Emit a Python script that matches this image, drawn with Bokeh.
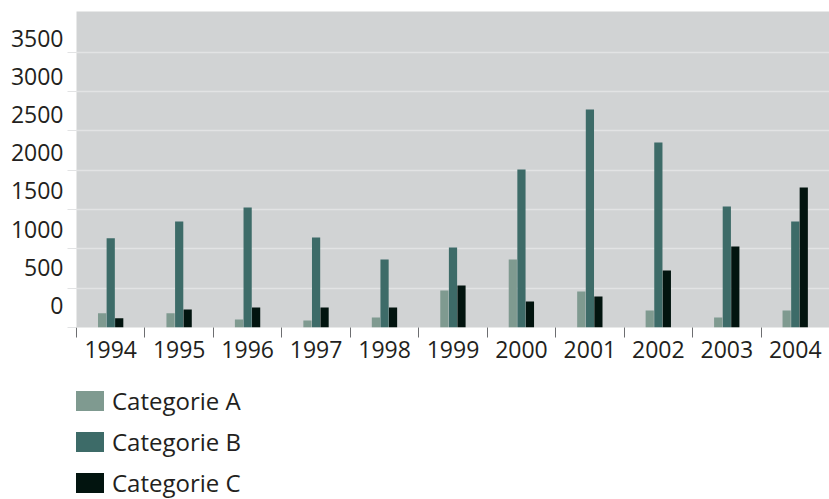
from bokeh.plotting import figure
from bokeh.layouts import column
from bokeh.models import (Range1d, LinearAxis, FixedTicker, CustomLabelingPolicy,
                          Grid, Legend, LegendItem, ColumnDataSource)
from bokeh.transform import dodge
from bokeh.embed import file_html
from bokeh.resources import INLINE

years = ["1994", "1995", "1996", "1997", "1998", "1999", "2000", "2001", "2002", "2003", "2004"]
cat_a = [182, 182, 102, 89, 127, 470, 864, 458, 216, 127, 216]
cat_b = [1135, 1348, 1526, 1144, 864, 1017, 2009, 2771, 2352, 1538, 1348]
cat_c = [118, 229, 254, 254, 254, 534, 331, 394, 725, 1030, 1780]
y_ticks = [0, 500, 1000, 1500, 2000, 2500, 3000, 3500]
series_names = ["Categorie A", "Categorie B", "Categorie C"]
colors = ["#7f9a90", "#3d6b68", "#02140f"]

FONT = "Open Sans"
TEXT = "#231f20"

n = len(years)
centers = [i + 0.5 for i in range(n)]
src = ColumnDataSource(dict(x=centers, year=years, a=cat_a, b=cat_b, c=cat_c))
keys = ["a", "b", "c"]
offsets = [-0.126, 0.0, 0.124]

p = figure(width=829, height=366, x_range=Range1d(0, n),
           y_range=Range1d(0, 4017), x_axis_location=None, y_axis_location=None,
           output_backend="svg", toolbar_location=None,
           min_border_left=76, min_border_top=11, min_border_right=0, min_border_bottom=39)
p.background_fill_color = "#d1d3d4"
p.outline_line_color = None
p.border_fill_color = "white"
for g in p.xgrid + p.ygrid:
    g.visible = False

p.extra_y_ranges = {"lab": Range1d(-288, 3847)}

no_labels = CustomLabelingPolicy(code="return []")

# y tick stubs + grid (main scale)
ytick_axis = LinearAxis(ticker=FixedTicker(ticks=y_ticks))
ytick_axis.major_tick_out = 9
ytick_axis.major_tick_in = 0
ytick_axis.major_tick_line_color = "#e2e3e4"
ytick_axis.minor_tick_line_color = None
ytick_axis.axis_line_color = None
ytick_axis.major_label_policy = no_labels
ytick_axis.major_label_text_font_size = "1px"
ytick_axis.major_label_standoff = 0
p.add_layout(ytick_axis, "left")
p.add_layout(Grid(dimension=1, ticker=ytick_axis.ticker, grid_line_color="#e2e3e4",
                  grid_line_width=1.5))

# y labels
ylab_axis = LinearAxis(y_range_name="lab", ticker=FixedTicker(ticks=y_ticks))
ylab_axis.major_tick_line_color = None
ylab_axis.minor_tick_line_color = None
ylab_axis.axis_line_color = None
ylab_axis.major_label_text_font = FONT
ylab_axis.major_label_text_font_size = "23px"
ylab_axis.major_label_text_color = TEXT
ylab_axis.major_label_standoff = -7
p.add_layout(ylab_axis, "left")

# x boundary ticks
xtick_axis = LinearAxis(ticker=FixedTicker(ticks=list(range(n + 1))))
xtick_axis.major_tick_out = 10
xtick_axis.major_tick_in = 0
xtick_axis.major_tick_line_color = "#6d6e71"
xtick_axis.minor_tick_line_color = None
xtick_axis.axis_line_color = None
xtick_axis.major_label_policy = no_labels
xtick_axis.major_label_text_font_size = "1px"
xtick_axis.major_label_standoff = 0
p.add_layout(xtick_axis, "below")

# x labels (years at category centres)
xlab_axis = LinearAxis(ticker=FixedTicker(ticks=centers))
xlab_axis.major_label_overrides = {c: y for c, y in zip(centers, years)}
xlab_axis.major_tick_line_color = None
xlab_axis.minor_tick_line_color = None
xlab_axis.axis_line_color = None
xlab_axis.major_label_text_font = FONT
xlab_axis.major_label_text_font_size = "23px"
xlab_axis.major_label_text_color = TEXT
xlab_axis.major_label_standoff = -7
p.add_layout(xlab_axis, "below")

for col, key, off in zip(colors, keys, offsets):
    p.vbar(x=dodge("x", off), top=key, width=0.12, source=src,
           fill_color=col, line_color=None)

# legend panel (same series, drawn outside its visible y range; only the legend shows)
lg = figure(width=829, height=133, x_range=Range1d(0, n), y_range=Range1d(10000, 20000),
            x_axis_location=None, y_axis_location=None,
            output_backend="svg", toolbar_location=None,
            min_border=0)
lg.outline_line_color = None
lg.background_fill_color = "white"
for g in lg.xgrid + lg.ygrid:
    g.visible = False
items = []
for name, col, key, off in zip(series_names, colors, keys, offsets):
    r = lg.vbar(x=dodge("x", off), top=key, width=0.12, source=src,
                fill_color=col, line_color=None)
    items.append(LegendItem(label=name, renderers=[r]))

legend = Legend(items=items, orientation="vertical")
legend.glyph_width = 35
legend.glyph_height = 25
legend.label_text_font = FONT
legend.label_text_font_size = "24px"
legend.label_text_color = TEXT
legend.label_text_baseline = "middle"
legend.label_standoff = 5
legend.spacing = 8
legend.padding = 0
legend.margin = 0
legend.background_fill_alpha = 0
legend.border_line_color = None
legend.location = (-4, 0)
lg.add_layout(legend)

open("out.html", "w").write(file_html(column(p, lg, spacing=0), INLINE))
